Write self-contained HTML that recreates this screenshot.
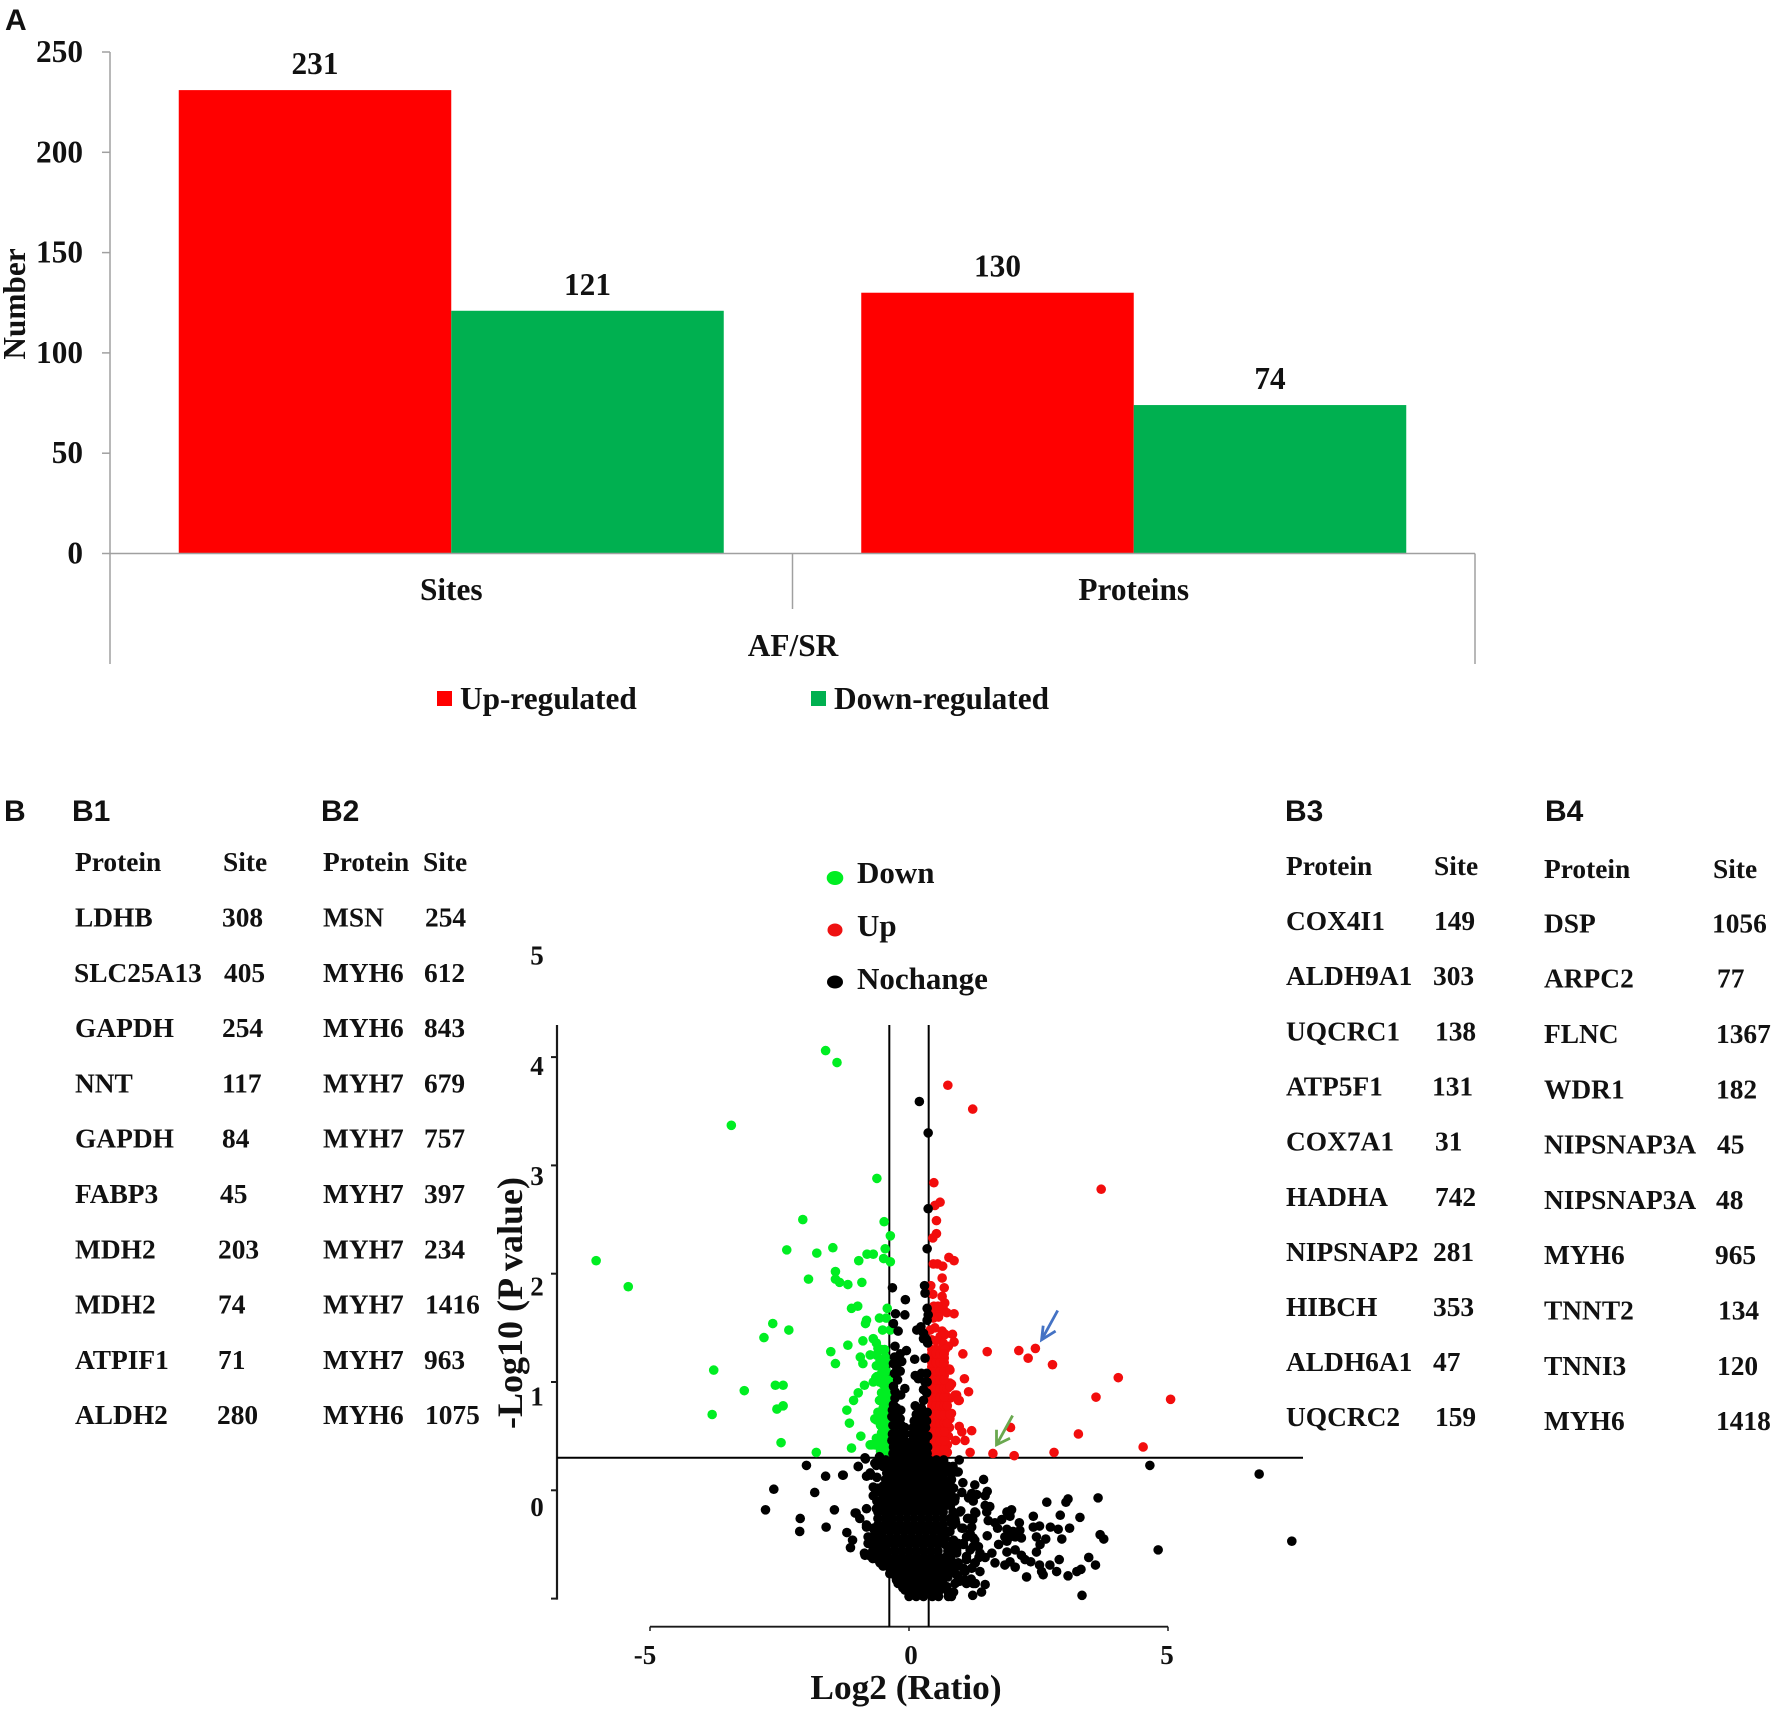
<!DOCTYPE html>
<html lang="en">
<head>
<meta charset="utf-8">
<title>AF/SR site and protein counts with volcano plot</title>
<style>
html,body{margin:0;padding:0;background:#fff}
svg{display:block}
text{font-family:"Liberation Serif",serif;font-weight:bold;fill:#111}
.sans{font-family:"Liberation Sans",sans-serif;font-weight:bold;font-size:30px}
.a{font-size:31.3px}
.t{font-size:27.4px}
.v{font-size:27px}
.l{font-size:31px}
</style>
</head>
<body>
<svg id="fig" xmlns="http://www.w3.org/2000/svg" width="1772" height="1710" viewBox="0 0 1772 1710">
<rect width="1772" height="1710" fill="#fff"/>
<text class="sans" x="5" y="30">A</text>
<text class="sans" x="4" y="821">B</text>
<text class="sans" x="72" y="821">B1</text>
<text class="sans" x="321" y="821">B2</text>
<text class="sans" x="1285" y="821">B3</text>
<text class="sans" x="1545" y="821">B4</text>

<g id="barChart"></g>
<text class="a" transform="translate(25,304) rotate(-90)" text-anchor="middle">Number</text>
<text class="a" x="793" y="656" text-anchor="middle">AF/SR</text>
<rect x="437" y="691" width="15" height="15" fill="#ff0000"/>
<text class="a" x="460" y="709">Up-regulated</text>
<rect x="811" y="691" width="15" height="15" fill="#00b050"/>
<text class="a" x="834" y="709">Down-regulated</text>

<g class="t">
<text x="75" y="871">Protein</text><text x="223" y="871">Site</text>
<text x="75" y="926.5">LDHB</text><text x="222" y="926.5">308</text>
<text x="74" y="981.8">SLC25A13</text><text x="224" y="981.8">405</text>
<text x="75" y="1037.1">GAPDH</text><text x="222" y="1037.1">254</text>
<text x="75" y="1092.4">NNT</text><text x="222" y="1092.4">117</text>
<text x="75" y="1147.7">GAPDH</text><text x="222" y="1147.7">84</text>
<text x="75" y="1203">FABP3</text><text x="220" y="1203">45</text>
<text x="75" y="1258.3">MDH2</text><text x="218" y="1258.3">203</text>
<text x="75" y="1313.6">MDH2</text><text x="218" y="1313.6">74</text>
<text x="75" y="1368.9">ATPIF1</text><text x="218" y="1368.9">71</text>
<text x="75" y="1424.2">ALDH2</text><text x="217" y="1424.2">280</text>
</g>
<g class="t">
<text x="323" y="871">Protein</text><text x="423" y="871">Site</text>
<text x="323" y="926.5">MSN</text><text x="425" y="926.5">254</text>
<text x="323" y="981.8">MYH6</text><text x="424" y="981.8">612</text>
<text x="323" y="1037.1">MYH6</text><text x="424" y="1037.1">843</text>
<text x="323" y="1092.4">MYH7</text><text x="424" y="1092.4">679</text>
<text x="323" y="1147.7">MYH7</text><text x="424" y="1147.7">757</text>
<text x="323" y="1203">MYH7</text><text x="424" y="1203">397</text>
<text x="323" y="1258.3">MYH7</text><text x="424" y="1258.3">234</text>
<text x="323" y="1313.6">MYH7</text><text x="425" y="1313.6">1416</text>
<text x="323" y="1368.9">MYH7</text><text x="424" y="1368.9">963</text>
<text x="323" y="1424.2">MYH6</text><text x="425" y="1424.2">1075</text>
</g>
<g class="t">
<text x="1286" y="875">Protein</text><text x="1434" y="875">Site</text>
<text x="1286" y="930">COX4I1</text><text x="1434" y="930">149</text>
<text x="1286" y="985">ALDH9A1</text><text x="1433" y="985">303</text>
<text x="1286" y="1040.3">UQCRC1</text><text x="1435" y="1040.3">138</text>
<text x="1286" y="1095.5">ATP5F1</text><text x="1432" y="1095.5">131</text>
<text x="1286" y="1150.6">COX7A1</text><text x="1435" y="1150.6">31</text>
<text x="1286" y="1205.8">HADHA</text><text x="1435" y="1205.8">742</text>
<text x="1286" y="1261">NIPSNAP2</text><text x="1433" y="1261">281</text>
<text x="1286" y="1316">HIBCH</text><text x="1433" y="1316">353</text>
<text x="1286" y="1371">ALDH6A1</text><text x="1433" y="1371">47</text>
<text x="1286" y="1426">UQCRC2</text><text x="1435" y="1426">159</text>
</g>
<g class="t">
<text x="1544" y="878">Protein</text><text x="1713" y="878">Site</text>
<text x="1544" y="932.4">DSP</text><text x="1712" y="932.4">1056</text>
<text x="1544" y="987.7">ARPC2</text><text x="1717" y="987.7">77</text>
<text x="1544" y="1043">FLNC</text><text x="1716" y="1043">1367</text>
<text x="1544" y="1098.3">WDR1</text><text x="1716" y="1098.3">182</text>
<text x="1544" y="1153.6">NIPSNAP3A</text><text x="1717" y="1153.6">45</text>
<text x="1544" y="1208.9">NIPSNAP3A</text><text x="1716" y="1208.9">48</text>
<text x="1544" y="1264.2">MYH6</text><text x="1715" y="1264.2">965</text>
<text x="1544" y="1319.5">TNNT2</text><text x="1718" y="1319.5">134</text>
<text x="1544" y="1374.8">TNNI3</text><text x="1717" y="1374.8">120</text>
<text x="1544" y="1430">MYH6</text><text x="1716" y="1430">1418</text>
</g>

<g id="volcano"></g>
<text x="906" y="1699" text-anchor="middle" font-size="35.3">Log2 (Ratio)</text>
<text transform="translate(522,1303) rotate(-90)" text-anchor="middle" font-size="36">-Log10 (P value)</text>
<ellipse cx="835" cy="878" rx="8.3" ry="7" fill="#00ee22"/>
<text class="l" x="857" y="883">Down</text>
<ellipse cx="835" cy="930" rx="7.5" ry="6.5" fill="#ee1111"/>
<text class="l" x="857" y="936">Up</text>
<ellipse cx="835" cy="982" rx="8" ry="6.5" fill="#000"/>
<text class="l" x="857" y="989">Nochange</text>
</svg>
<script>
/* Panel A data */
const barCategories = ['Sites', 'Proteins'];
const upRegulated = [231, 130];
const downRegulated = [121, 74];
const barTicks = [0, 50, 100, 150, 200, 250];

/* Volcano data: [log2 ratio, -log10 p] */
const volcanoXTicks = [-5, 0, 5];
const volcanoYTicks = [-1, 0, 1, 2, 3, 4];
const volcanoYLabels = [0, 1, 2, 3, 4, 5];
const ratioCutoffs = [-0.38, 0.38];
const pCutoff = [0.3];
const downPoints = [[-6.04,2.12],[-5.42,1.88],[-3.77,1.11],[-3.80,.70],[-3.18,.92],[-2.58,.97],[-2.43,.97],[-2.55,.75],[-2.43,.78],[-2.47,.44],[-1.79,.35],[-2.80,1.41],[-2.63,1.54],[-2.32,1.48],[-2.36,2.22],[-2.05,2.50],[-1.78,2.19],[-1.47,2.24],[-1.94,1.95],[-1.42,2.02],[-1.42,1.95],[-1.34,1.92],[-1.18,1.90],[-.91,1.92],[-.97,2.12],[-.81,2.18],[-.69,2.18],[-.49,2.14],[-.36,2.11],[-.46,2.23],[-.36,2.35],[-.48,2.48],[-1.51,1.28],[-1.42,1.17],[-1.18,1.34],[-1.11,1.68],[-.99,1.70],[-.82,1.57],[-.84,1.54],[-.89,1.38],[-.69,1.40],[-.63,1.36],[-.42,1.68],[-.57,1.59],[-.44,1.59],[-.51,1.48],[-.36,1.48],[-.94,1.23],[-.89,1.17],[-.75,1.25],[-.63,1.25],[-.60,1.31],[-.47,1.30],[-.63,1.15],[-.50,1.20],[-.64,1.04],[-.53,1.08],[-.44,1.10],[-.69,1.00],[-.57,1.00],[-.86,.97],[-.98,.90],[-1.07,.83],[-1.20,.74],[-1.15,.62],[-.93,.50],[-1.11,.39],[-.75,.42],[-.63,.48],[-.63,.65],[-.57,.83],[-.53,.90],[-.50,.76],[-.47,.68],[-.53,.53],[-.47,.56],[-.57,.40],[-.47,.42],[-.45,.34],[-.42,.83],[-.42,1.02],[-.42,.53],[-.42,.71],[-.53,.71],[-.31,1.03],[-.55,.36],[-.45,.9],[-.5,.98],[-.42,.62],[-.55,.6],[-.6,.72],[-.46,.47],[-.6,.44],[-.5,.36],[-.4,.37],[-.4,.47],[-.4,.58],[-.4,.78],[-.4,.9],[-.47,1.22],[-.55,1.14],[-.43,1.18],[-1.61,4.06],[-1.39,3.95],[-3.43,3.37],[-.62,2.88],
[-.56,1.05],[-.5,1.08],[-.62,1.05],[-.53,.83],[-.5,.74],[-.53,.65],[-.5,.56],[-.66,.66],[-.59,.68],[-.56,.40],[-.66,.42],[-.5,.50],[-.72,.42],[-.46,.34],[-.46,1.23],[-.56,1.2],[-.53,1.3],[-.46,.95],[-.46,.8],[-.46,.62]];
const upPoints = [[.75,3.74],[1.23,3.52],[.48,2.84],[.50,2.63],[.60,2.66],[.53,2.49],[.53,2.37],[.46,2.33],[.77,2.15],[.87,2.12],[.47,2.09],[.55,2.09],[.65,2.07],[.64,1.96],[.68,1.87],[.42,1.89],[.46,1.81],[.64,1.79],[.69,1.73],[.66,1.68],[.53,1.66],[.44,1.63],[.60,1.65],[.73,1.64],[.87,1.63],[.47,1.59],[.57,1.60],[.41,1.48],[.64,1.47],[.84,1.44],[.60,1.42],[.44,1.39],[.87,1.37],[.66,1.36],[.76,1.33],[1.04,1.26],[1.51,1.28],[2.12,1.29],[2.30,1.22],[2.44,1.31],[2.77,1.16],[.78,1.12],[1.07,1.03],[.79,.99],[.82,.98],[1.15,.91],[.92,.88],[.97,.83],[.79,.85],[.82,.71],[.79,.66],[.97,.59],[1.02,.54],[1.21,.55],[.90,.46],[1.08,.46],[1.96,.58],[1.18,.35],[1.62,.34],[2.03,.32],[2.80,.35],[3.27,.52],[3.71,2.78],[4.04,1.04],[3.61,.86],[5.05,.84],[4.52,.40],
[.44,.34],[.52,.34],[.6,.34],[.68,.34],[.74,.35],[.44,.42],[.52,.42],[.6,.42],[.68,.42],[.74,.42],[.44,.5],[.52,.5],[.6,.5],[.68,.5],[.76,.5],[.44,.58],[.52,.58],[.6,.58],[.68,.58],[.78,.58],[.44,.66],[.52,.66],[.6,.66],[.68,.66],[.76,.7],[.44,.74],[.52,.74],[.6,.74],[.68,.74],[.44,.82],[.52,.82],[.6,.82],[.68,.82],[.74,.86],[.44,.9],[.52,.9],[.6,.9],[.68,.9],[.44,.98],[.52,.98],[.6,.98],[.68,.98],[.44,1.06],[.52,1.06],[.6,1.06],[.68,1.06],[.44,1.14],[.52,1.14],[.6,1.14],[.68,1.14],[.44,1.22],[.52,1.22],[.6,1.22],[.68,1.22],[.44,1.3],[.52,1.3],[.6,1.3],[.7,1.3],[.52,1.38],[.7,1.44],[.5,1.5],[.56,1.7],[.48,1.7],
[.44,.38],[.52,.38],[.6,.38],[.68,.38],[.44,.46],[.52,.46],[.6,.46],[.68,.46],[.44,.54],[.52,.54],[.6,.54],[.68,.54],[.44,.62],[.52,.62],[.6,.62],[.68,.62],[.74,.62],[.44,.7],[.52,.7],[.6,.7],[.68,.7],[.44,.78],[.52,.78],[.6,.78],[.68,.78],[.74,.78],[.44,.86],[.52,.86],[.6,.86],[.68,.86],[.44,.94],[.52,.94],[.6,.94],[.68,.94],[.74,.94],[.44,1.02],[.52,1.02],[.6,1.02],[.68,1.02],[.44,1.1],[.52,1.1],[.6,1.1],[.68,1.1],[.44,1.18],[.52,1.18],[.6,1.18],[.68,1.18],[.44,1.26],[.52,1.26],[.6,1.26],[.68,1.26],[.79,1.11],[.79,.96],[.79,.7],[.89,.88],[.95,.83]];
const nochangePoints = [[.20,3.59],[.37,3.30],[.37,2.60],[.35,2.23],[-.32,1.87],[-.07,1.76],[.30,1.89],[.31,1.82],[-.26,1.63],[-.08,1.62],[.35,1.68],[.37,1.62],[.35,1.57],[-.30,1.54],[-.21,1.47],[.15,1.48],[.23,1.51],[.28,1.45],[.34,1.39],[.28,1.40],[.36,1.36],[-.27,1.33],[-.05,1.29],[-.17,1.26],[-.28,1.23],[.11,1.21],[.31,1.22],[-.14,1.19],[-.24,1.14],[-.17,1.10],[.12,1.06],[.24,1.08],[.34,1.08],[.18,1.03],[-.30,.96],[-.08,.94],[-.27,.91],[.28,.93],[.31,1.00],[-.27,.85],[.12,.78],[.28,.83],[-.30,.79],[.24,.76],[-.16,.88],[-.22,1.02],[.34,.9],[.35,1.0],[-.28,1.08],[-.3,1.17],
[-.32,.74],[-.24,.76],[-.16,.74],[.14,.7],[.22,.7],[.3,.7],[.35,.72],[-.33,.68],[-.25,.68],[-.17,.66],[.1,.64],[.18,.64],[.26,.64],[.34,.64],[-.31,.6],[-.23,.6],[-.15,.6],[-.08,.58],[.08,.58],[.16,.58],[.24,.58],[.32,.58],[-.32,.52],[-.24,.52],[-.16,.52],[-.08,.52],[.06,.52],[.14,.52],[.22,.52],[.3,.52],[.36,.5],[-.33,.46],[-.25,.46],[-.17,.46],[-.09,.46],[.07,.46],[.15,.46],[.23,.46],[.31,.46],[-.3,.4],[-.22,.4],[-.14,.4],[-.06,.4],[.05,.4],[.13,.4],[.21,.4],[.29,.4],[.36,.4],[-.31,.34],[-.23,.34],[-.15,.34],[-.07,.34],[.04,.34],[.12,.34],[.2,.34],[.28,.34],[.35,.34],[-.02,.42],[-.01,.36],
[-.45,.28],[-.31,.28],[-.17,.28],[-.03,.28],[.11,.28],[.25,.28],[.39,.28],[.53,.28],[.67,.28],
[-.5,.22],[-.36,.22],[-.22,.22],[-.08,.22],[.06,.22],[.2,.22],[.34,.22],[.48,.22],[.62,.22],[.76,.22],[.85,.22],
[-.43,.16],[-.29,.16],[-.15,.16],[-.01,.16],[.13,.16],[.27,.16],[.41,.16],[.55,.16],[.69,.16],[.8,.16],
[-.45,.1],[-.31,.1],[-.17,.1],[-.03,.1],[.11,.1],[.25,.1],[.39,.1],[.53,.1],[.67,.1],[.82,.1],
[-.5,.04],[-.36,.04],[-.22,.04],[-.08,.04],[.06,.04],[.2,.04],[.34,.04],[.48,.04],[.62,.04],[.78,.04],
[-.55,-.02],[-.41,-.02],[-.27,-.02],[-.13,-.02],[.01,-.02],[.15,-.02],[.29,-.02],[.43,-.02],[.57,-.02],[.71,-.02],[.8,-.02],
[-.5,-.08],[-.36,-.08],[-.22,-.08],[-.08,-.08],[.06,-.08],[.2,-.08],[.34,-.08],[.48,-.08],[.62,-.08],[.75,-.08],
[-.55,-.14],[-.41,-.14],[-.27,-.14],[-.13,-.14],[.01,-.14],[.15,-.14],[.29,-.14],[.43,-.14],[.57,-.14],[.71,-.14],[.8,-.14],
[-.6,-.2],[-.46,-.2],[-.32,-.2],[-.18,-.2],[-.04,-.2],[.1,-.2],[.24,-.2],[.38,-.2],[.52,-.2],[.66,-.2],[.85,-.2],
[-.6,-.26],[-.46,-.26],[-.32,-.26],[-.18,-.26],[-.04,-.26],[.1,-.26],[.24,-.26],[.38,-.26],[.52,-.26],[.66,-.26],[.8,-.26],
[-.6,-.32],[-.46,-.32],[-.32,-.32],[-.18,-.32],[-.04,-.32],[.1,-.32],[.24,-.32],[.38,-.32],[.52,-.32],[.66,-.32],[.85,-.32],
[-.65,-.38],[-.51,-.38],[-.37,-.38],[-.23,-.38],[-.09,-.38],[.05,-.38],[.19,-.38],[.33,-.38],[.47,-.38],[.61,-.38],[.75,-.38],
[-.65,-.44],[-.51,-.44],[-.37,-.44],[-.23,-.44],[-.09,-.44],[.05,-.44],[.19,-.44],[.33,-.44],[.47,-.44],[.61,-.44],[.7,-.44],
[-.7,-.5],[-.56,-.5],[-.42,-.5],[-.28,-.5],[-.14,-.5],[0,-.5],[.14,-.5],[.28,-.5],[.42,-.5],[.56,-.5],[.7,-.5],
[-.7,-.56],[-.56,-.56],[-.42,-.56],[-.28,-.56],[-.14,-.56],[0,-.56],[.14,-.56],[.28,-.56],[.42,-.56],[.56,-.56],[.75,-.56],
[-.55,-.62],[-.41,-.62],[-.27,-.62],[-.13,-.62],[.01,-.62],[.15,-.62],[.29,-.62],[.43,-.62],[.57,-.62],[.7,-.62],
[-.45,-.68],[-.31,-.68],[-.17,-.68],[-.03,-.68],[.11,-.68],[.25,-.68],[.39,-.68],[.53,-.68],[.67,-.68],[.8,-.68],
[-.35,-.74],[-.21,-.74],[-.07,-.74],[.07,-.74],[.21,-.74],[.35,-.74],[.49,-.74],[.63,-.74],[.75,-.74],
[-.25,-.8],[-.11,-.8],[.03,-.8],[.17,-.8],[.31,-.8],[.45,-.8],[.6,-.8],
[-.15,-.86],[-.01,-.86],[.13,-.86],[.27,-.86],[.41,-.86],[.55,-.86],
[-.08,-.92],[.06,-.92],[.2,-.92],[.34,-.92],[.5,-.92],
[0,-.98],[.14,-.98],[.28,-.98],[.45,-.98],[.57,-.98],
[-1.98,.23],[-1.61,.13],[-1.28,.14],[-2.61,.01],[-1.82,-.02],[-2.77,-.18],[-2.10,-.26],[-2.11,-.38],[-1.44,-.18],[-1.60,-.34],[-1.20,-.39],[-1.09,-.46],[-1.13,-.53],[-.98,.22],[-.84,.29],[-.82,.13],[-.69,.03],[-.69,-.05],[-.63,.23],[-.57,.31],[-.73,.14],[-1.02,-.21],[-.95,-.26],[-.82,-.17],[-.63,-.17],[-.82,-.32],[-.66,-.35],[-.73,-.43],[-.57,-.40],[-.79,-.49],[-.86,-.58],[-.69,-.55],[-.57,-.52],[-.60,-.64],[-.50,-.70],[-.37,-.77],[-.24,-.83],[-.12,-.90],[-.78,-.6],[-.7,-.63],[-.62,.12],[-.6,.02],[-.62,-.1],
[-.85,.30],[-.98,.22],[-1.27,.14],[-1.04,-.21],[-.79,-.43],[-.62,-.43],[-.46,-.61],[-.37,-.72],[-.21,-.86],[-.85,-.60],[-.75,-.49],[-.56,-.67],[-.66,-.58],[-.53,.28],[-.66,.25],[-.75,.16],[-.82,-.34],[-.69,-.35],[-.56,-.40],[-.62,-.55],[-.5,-.49],
[.97,.28],[.92,.17],[.82,.16],[1.04,.07],[1.44,.10],[1.27,.05],[.82,.03],[1.02,-.02],[1.21,-.03],[1.31,-.04],[1.51,-.01],[1.47,-.05],[1.15,-.07],[1.24,-.10],[.89,-.07],[1,-.19],[1.47,-.14],[1.56,-.15],[1.5,-.2],[1.29,-.21],[1.13,-.26],[1.23,-.27],[.82,-.27],[1.53,-.28],[1.98,-.18],[1.89,-.20],[1.95,-.24],[1.79,-.27],[1.66,-.30],[1.71,-.35],[2.13,-.30],[1.89,-.36],[2.01,-.38],[2.14,-.37],[1.85,-.43],[1.95,-.43],[2.17,-.44],[2.05,-.43],[1.73,-.50],[1.89,-.47],[1.51,-.42],[1.04,-.35],[1.18,-.40],[.79,-.38],[1.27,-.46],[1.34,-.52],[.95,-.49],[1.18,-.55],[1.47,-.62],[1.6,-.58],[1.89,-.57],[2.05,-.55],[2.17,-.60],[1.66,-.67],[1.85,-.69],[1.95,-.66],[2.05,-.71],[2.24,-.64],[2.35,-.66],[2.27,-.80],[2.46,-.57],[2.53,-.50],[2.64,-.45],[2.46,-.43],[2.40,-.34],[2.52,-.33],[2.40,-.24],[2.66,-.11],[3.03,-.11],[3.07,-.08],[2.92,-.23],[2.73,-.34],[2.88,-.36],[3.10,-.35],[2.95,-.45],[3.30,-.25],[3.65,-.07],[3.69,-.41],[3.76,-.45],[3.47,-.62],[3.60,-.69],[3.32,-.73],[3.24,-.75],[3.07,-.79],[3.34,-.97],[2.90,-.64],[2.85,-.75],[2.72,-.69],[2.52,-.69],[2.56,-.75],[2.59,-.78],[4.81,-.55],[4.65,.23],[6.76,.15],[7.39,-.47],[1.37,-.75],[1.28,-.67],[1.11,-.64],[1.21,-.72],[.95,-.67],[1.47,-.87],[1.40,-.94],[1.23,-.97],[1.28,-.86],[1.11,-.86],[.98,-.84],[.82,-.98],[.76,-.94],[.95,-.80],[.88,-.1],[.9,-.3],[.92,-.55],[.88,-.72],[1.05,-.5],[1.08,-.75],[1.2,-.82],[1.35,-.62],
[.86,-.46],[1.05,-.49],[1.24,-.52],[1.37,-.58],[.92,-.58],[1.11,-.61],[1.27,-.67],[.86,-.67],[1.05,-.72],[.92,-.78],[1.08,-.83],[1.24,-.86],[.89,-.86],[.73,-.89],[.86,-.94],[.76,-.98],[.82,-.30],[.98,-.2],[.89,-.27],[1.02,-.35],[1.15,-.26],[1.27,-.20],[1.21,-.34],[1.11,-.43],[1.24,-.44],[.73,-.09],[.86,.02],[.86,-.10],[.79,.06],[.95,.17],[.70,.23],[.76,.2],[.84,-.5],[.8,-.62],[.85,-.74],[.75,-.8],[.65,-.86],[.6,-.92]];
const blueArrow = [[2.87,1.66],[2.56,1.39],[2.59,1.52],[2.83,1.47]];
const greenArrow = [[2.0,.69],[1.69,.42],[1.69,.56],[1.95,.48]];

/* Axis functions */
function barY(v) { return 553.5 - 2.006 * v; }
function catLeft(i) { return 110 + 682.5 * i; }
function catCenter(i) { return catLeft(i) + 341.25; }
function volX(v) { return 909 + 51.8 * v; }
function volY(v) { return 1490.3 - 108.3 * v; }
function volLabelY(v) { return 1516 - 110.3 * v; }

const NS = 'http://www.w3.org/2000/svg';
function make(tag, parent, attrs, txt) {
  const n = document.createElementNS(NS, tag);
  for (const k in attrs) n.setAttribute(k, attrs[k]);
  if (txt !== undefined) n.textContent = txt;
  parent.appendChild(n);
  return n;
}

/* ---- Panel A ---- */
const bar = document.getElementById('barChart');
const barW = 272.5;
const AXIS = '#a0a0a0';
barCategories.forEach(function (cat, i) {
  const up = make('rect', bar, {x: catCenter(i) - barW, y: barY(upRegulated[i]), width: barW, height: barY(0) - barY(upRegulated[i]), fill: '#ff0000'});
  
  
  const dn = make('rect', bar, {x: catCenter(i), y: barY(downRegulated[i]), width: barW, height: barY(0) - barY(downRegulated[i]), fill: '#00b050'});
  
  
  const uv = make('text', bar, {class: 'a', x: catCenter(i) - barW / 2, y: barY(upRegulated[i]) - 16, 'text-anchor': 'middle'}, String(upRegulated[i]));
  
  
  const dv = make('text', bar, {class: 'a', x: catCenter(i) + barW / 2, y: barY(downRegulated[i]) - 16, 'text-anchor': 'middle'}, String(downRegulated[i]));
  
  
  const cl = make('text', bar, {class: 'a', x: catCenter(i), y: 600, 'text-anchor': 'middle'}, cat);
  
  
});
const barYAxis = make('line', bar, {x1: 110, x2: 110, y1: barY(250), y2: 664, stroke: AXIS, 'stroke-width': 1.5});


const barXAxis = make('line', bar, {x1: 110, x2: 1475, y1: barY(0), y2: barY(0), stroke: AXIS, 'stroke-width': 1.5});


const barDivider = make('line', bar, {x1: 792.5, x2: 792.5, y1: barY(0), y2: 609, stroke: AXIS, 'stroke-width': 1.5});


const barEnd = make('line', bar, {x1: 1475, x2: 1475, y1: barY(0), y2: 664, stroke: AXIS, 'stroke-width': 1.5});


barTicks.forEach(function (t) {
  const tk = make('line', bar, {x1: 102, x2: 110, y1: barY(t), y2: barY(t), stroke: AXIS, 'stroke-width': 1.5});
  
  
  const lb = make('text', bar, {class: 'a', x: 83, y: barY(t) + 10, 'text-anchor': 'end'}, String(t));
  
  
});

/* ---- Volcano ---- */
const vol = document.getElementById('volcano');
const INK = '#1a1a1a';
const vAxisY = make('line', vol, {x1: 557, x2: 557, y1: 1025, y2: volY(-1) + 1, stroke: INK, 'stroke-width': 2.2});


const vAxisX = make('line', vol, {x1: volX(-5), x2: volX(5), y1: 1626.7, y2: 1626.7, stroke: INK, 'stroke-width': 1.8});


volcanoYTicks.forEach(function (t) {
  const tk = make('line', vol, {x1: 551, x2: 557, y1: volY(t), y2: volY(t), stroke: INK, 'stroke-width': 2});
  
  
});
volcanoYLabels.forEach(function (t) {
  const lb = make('text', vol, {class: 'v', x: 537, y: volLabelY(t), 'text-anchor': 'middle'}, String(t));
  
  
});
volcanoXTicks.forEach(function (t) {
  const tk = make('line', vol, {x1: volX(t), x2: volX(t), y1: 1626.7, y2: 1631, stroke: INK, 'stroke-width': 1.5});
  
  
  const lb = make('text', vol, {class: 'v', x: volX(t) + (t < 0 ? -5 : t > 0 ? -1 : 2), y: 1664, 'text-anchor': 'middle'}, String(t));
  
  
});
ratioCutoffs.forEach(function (c) {
  const ln = make('line', vol, {x1: volX(c), x2: volX(c), y1: 1025, y2: 1626.7, stroke: '#000', 'stroke-width': 2});
  
  
});
pCutoff.forEach(function (c) {
  const ln = make('line', vol, {x1: 557, x2: 1303, y1: volY(c), y2: volY(c), stroke: '#000', 'stroke-width': 2});
  
  
});
downPoints.forEach(function (p) {
  const d = make('circle', vol, {cx: volX(p[0]), cy: volY(p[1]), r: 4.8, fill: '#00ee22'});
  
  
});
upPoints.forEach(function (p) {
  const d = make('circle', vol, {cx: volX(p[0]), cy: volY(p[1]), r: 4.8, fill: '#f20d0d'});
  
  
});
nochangePoints.forEach(function (p) {
  const d = make('circle', vol, {cx: volX(p[0]), cy: volY(p[1]), r: 4.8, fill: '#000'});
  
  
});
function arrowPath(a) {
  const xy = function (p) { return volX(p[0]).toFixed(1) + ' ' + volY(p[1]).toFixed(1); };
  return 'M' + xy(a[0]) + 'L' + xy(a[1]) + 'M' + xy(a[2]) + 'L' + xy(a[1]) + 'L' + xy(a[3]);
}
const arrowBlue = make('path', vol, {d: arrowPath(blueArrow), fill: 'none', stroke: '#4472c4', 'stroke-width': 2.8});


const arrowGreen = make('path', vol, {d: arrowPath(greenArrow), fill: 'none', stroke: '#6aa84f', 'stroke-width': 2.8});


</script>
</body>
</html>
